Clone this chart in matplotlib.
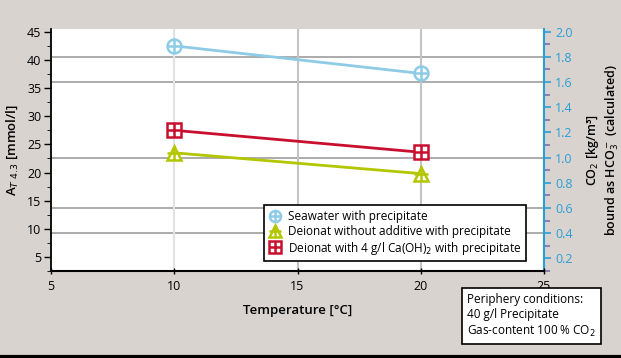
import numpy as np
import matplotlib.pyplot as plt
from matplotlib.ticker import MultipleLocator

plt.rcParams['font.family'] = ['Open Sans', 'DejaVu Sans']

temperatur = [10, 20]
seawater = [42.5, 37.6]
deionat = [23.5, 19.8]
deionat_caoh = [27.5, 23.6]
grid_co2 = [0.4, 0.6, 1.0, 1.6, 1.8]

c_blue = '#8dcbe6'
c_green = '#b3c600'
c_red = '#c8102e'
c_axis2 = '#2a9fd6'
bg = '#d8d3cf'

fig = plt.figure(figsize=(6.21, 3.58), dpi=100, facecolor=bg)
ax = fig.add_axes([0.0821, 0.243, 0.794, 0.676])
ax2 = ax.twinx()
ax.set_zorder(ax2.get_zorder() + 1)
ax.patch.set_visible(False)
ax2.patch.set_visible(True)
ax2.patch.set_facecolor('white')

ax.set_xlim(5, 25)
ax.set_ylim(2.5, 45.5)
ax2.set_ylim(0.1, 2.02)

for g in grid_co2:
    ax2.axhline(g, color='#a5a5a5', lw=1.3, zorder=0)
ax2.axvline(10, color='#e2e2e2', lw=1.5, zorder=0)
ax2.axvline(15, color='#c4c4c4', lw=1.5, zorder=0)
ax2.axvline(20, color='#c4c4c4', lw=1.5, zorder=0)

def serie(y, col, mk):
    ax.plot(temperatur, y, color=col, lw=2)
    m1, = ax.plot(temperatur, y, ls='none', marker=mk, ms=10, mfc='white',
                  mec=col, mew=1.8)
    m2, = ax.plot(temperatur, y, ls='none', marker='+', ms=10, mec=col, mew=1.8)
    return (m1, m2)

h1 = serie(seawater, c_blue, 'o')
h2 = serie(deionat, c_green, '^')
h3 = serie(deionat_caoh, c_red, 's')

ax.set_xticks([5, 10, 15, 20, 25])
ax.set_yticks([5, 10, 15, 20, 25, 30, 35, 40, 45])
ax.yaxis.set_minor_locator(MultipleLocator(2.5))
ax2.set_yticks(np.arange(0.2, 2.01, 0.2))
ax2.set_yticklabels(['%.1f' % v for v in np.arange(0.2, 2.01, 0.2)])
ax2.yaxis.set_minor_locator(MultipleLocator(0.1))

ax.tick_params(axis='y', labelsize=9, length=5, width=1, pad=2)
ax.tick_params(axis='y', which='minor', length=3)
ax.tick_params(axis='x', labelsize=9, length=5, width=1, direction='inout', pad=4)
ax2.tick_params(axis='y', colors=c_axis2, labelsize=9, length=5, width=1.2, pad=3)
ax2.tick_params(axis='y', which='minor', color='#7b70a8', length=4, width=1.2)

for a in (ax, ax2):
    a.spines['top'].set_visible(False)
ax.spines['right'].set_visible(False)
ax2.spines['left'].set_visible(False)
ax2.spines['bottom'].set_visible(False)
ax2.spines['right'].set_color(c_axis2)
ax2.spines['right'].set_linewidth(1.5)
ax.spines['left'].set_linewidth(1.3)
ax.spines['bottom'].set_linewidth(1.5)

ax.set_xlabel('Temperature [°C]', fontsize=9.5, fontweight='semibold', labelpad=8)
ax.set_ylabel('A$_{T\\ 4.3}$ [mmol/l]', fontsize=9.5, fontweight='semibold', labelpad=5)
ax2.set_ylabel('CO$_2$ [kg/m³]\nbound as HCO$_3^-$ (calculated)', fontsize=9,
               fontweight='semibold', labelpad=8, linespacing=1.25)

leg = ax.legend([h1, h2, h3],
                ['Seawater with precipitate',
                 'Deionat without additive with precipitate',
                 'Deionat with 4 g/l Ca(OH)$_2$ with precipitate'],
                loc='lower right', bbox_to_anchor=(0.963, 0.04), fontsize=8.5,
                fancybox=False, framealpha=1, edgecolor='black', markerscale=0.8,
                handlelength=1.0, handletextpad=0.6, labelspacing=0.15,
                borderpad=0.4, borderaxespad=0)
leg.get_frame().set_linewidth(1.2)

fig.text(0.752, 0.053, 'Periphery conditions:\n40 g/l Precipitate\nGas-content 100 % CO$_2$',
         fontsize=8.5, va='bottom', ha='left', linespacing=1.25,
         bbox=dict(boxstyle='square,pad=0.45', fc='white', ec='black', lw=1.2))

fig.add_artist(plt.Line2D([0, 1], [0.003, 0.003], color='black', lw=3,
                          transform=fig.transFigure))

fig.savefig('out.png', dpi=100, facecolor=bg)
